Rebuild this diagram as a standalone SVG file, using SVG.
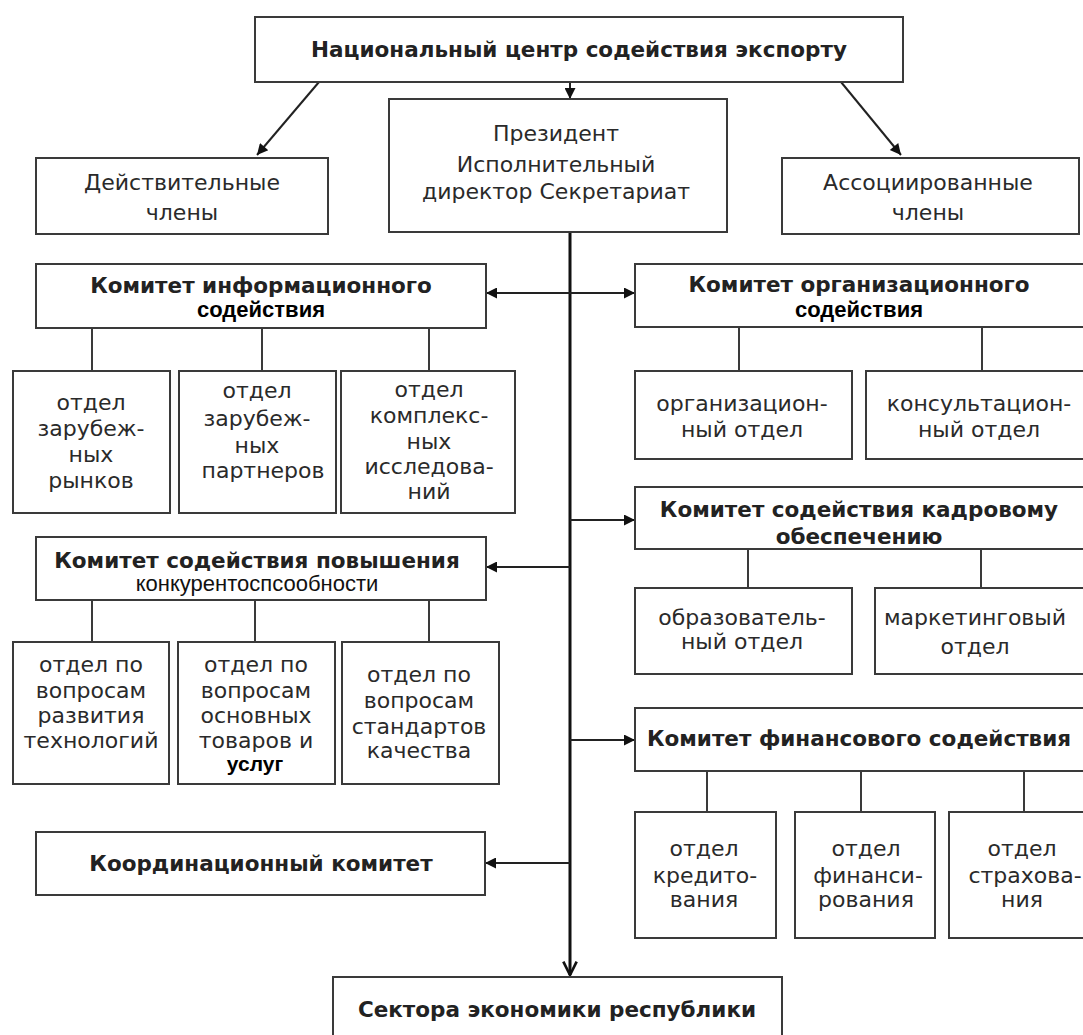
<svg xmlns="http://www.w3.org/2000/svg" width="1083" height="1035" viewBox="0 0 1083 1035">
<defs>
<marker id="ah" viewBox="0 0 10 10" refX="10" refY="5" markerWidth="13" markerHeight="11" markerUnits="userSpaceOnUse" orient="auto-start-reverse"><path d="M0,0 L10,5 L0,10 z" fill="#111"/></marker>
<marker id="av" viewBox="0 0 12 12" refX="11" refY="6" markerWidth="16" markerHeight="16" markerUnits="userSpaceOnUse" orient="auto"><path d="M1,1 L11,6 L1,11" fill="none" stroke="#111" stroke-width="2"/></marker>
</defs>
<style>
.box{fill:#fff;stroke:#3a3a3a;stroke-width:2}
.t{font-family:"DejaVu Sans",Verdana,sans-serif;font-size:22px;fill:#2a2a2a;text-anchor:middle}
.b{font-family:"DejaVu Sans",Verdana,sans-serif;font-size:21.5px;font-weight:bold;fill:#222;text-anchor:middle}
.a{font-family:"Liberation Sans",Arial,sans-serif;font-size:22px;fill:#111;text-anchor:middle}
.ab{font-family:"Liberation Sans",Arial,sans-serif;font-size:22px;font-weight:bold;fill:#000;text-anchor:middle}
.c{fill:none;stroke:#222;stroke-width:2}
.s{fill:none;stroke:#3a3a3a;stroke-width:2}
.m{fill:none;stroke:#111;stroke-width:3}
</style>
<rect width="1083" height="1035" fill="#fff"/>
<g id="connectors">
<line class="c" x1="570" y1="82" x2="570" y2="99" marker-end="url(#ah)"/>
<line class="c" x1="319" y1="82" x2="257" y2="155" marker-end="url(#ah)"/>
<line class="c" x1="841" y1="82" x2="901" y2="155" marker-end="url(#ah)"/>
<line class="m" x1="570" y1="232" x2="570" y2="975" marker-end="url(#av)"/>
<line class="c" x1="486" y1="293" x2="635" y2="293" marker-start="url(#ah)" marker-end="url(#ah)"/>
<line class="c" x1="570" y1="520" x2="635" y2="520" marker-end="url(#ah)"/>
<line class="c" x1="570" y1="567" x2="486" y2="567" marker-end="url(#ah)"/>
<line class="c" x1="570" y1="740" x2="635" y2="740" marker-end="url(#ah)"/>
<line class="c" x1="570" y1="863" x2="485" y2="863" marker-end="url(#ah)"/>
<line class="s" x1="92" y1="328" x2="92" y2="371"/>
<line class="s" x1="262" y1="328" x2="262" y2="371"/>
<line class="s" x1="429" y1="328" x2="429" y2="371"/>
<line class="s" x1="739" y1="327" x2="739" y2="371"/>
<line class="s" x1="982" y1="327" x2="982" y2="371"/>
<line class="s" x1="748" y1="549" x2="748" y2="588"/>
<line class="s" x1="981" y1="549" x2="981" y2="588"/>
<line class="s" x1="92" y1="600" x2="92" y2="642"/>
<line class="s" x1="255" y1="600" x2="255" y2="642"/>
<line class="s" x1="429" y1="600" x2="429" y2="642"/>
<line class="s" x1="707" y1="771" x2="707" y2="812"/>
<line class="s" x1="861" y1="771" x2="861" y2="812"/>
<line class="s" x1="1024" y1="771" x2="1024" y2="812"/>
</g>
<g id="n-center"><rect class="box" x="255" y="17" width="648" height="65"/><text class="b" x="579" y="57">Национальный центр содействия экспорту</text></g>
<g id="n-president"><rect class="box" x="389" y="99" width="338" height="133"/><text class="t" x="556" y="141">Президент</text><text class="t" x="556" y="172">Исполнительный</text><text class="t" x="556" y="199">директор Секретариат</text></g>
<g id="n-full"><rect class="box" x="36" y="158" width="292" height="76"/><text class="t" x="182" y="190">Действительные</text><text class="t" x="182" y="220">члены</text></g>
<g id="n-assoc"><rect class="box" x="782" y="158" width="297" height="76"/><text class="t" x="928" y="190">Ассоциированные</text><text class="t" x="928" y="220">члены</text></g>
<g id="n-info"><rect class="box" x="36" y="264" width="450" height="64"/><text class="b" x="261" y="293">Комитет информационного</text><text class="ab" x="261" y="317">содействия</text></g>
<g id="n-info1"><rect class="box" x="13" y="371" width="157" height="142"/><text class="t" x="91" y="410">отдел</text><text class="t" x="91" y="436">зарубеж-</text><text class="t" x="91" y="462">ных</text><text class="t" x="91" y="488">рынков</text></g>
<g id="n-info2"><rect class="box" x="179" y="371" width="157" height="142"/><text class="t" x="257" y="398">отдел</text><text class="t" x="257" y="426">зарубеж-</text><text class="t" x="257" y="453">ных</text><text class="t" x="263" y="478">партнеров</text></g>
<g id="n-info3"><rect class="box" x="341" y="371" width="174" height="142"/><text class="t" x="429" y="397">отдел</text><text class="t" x="429" y="423">комплекс-</text><text class="t" x="429" y="449">ных</text><text class="t" x="429" y="474">исследова-</text><text class="t" x="429" y="499">ний</text></g>
<g id="n-org"><rect class="box" x="635" y="264" width="460" height="63"/><text class="b" x="859" y="292">Комитет организационного</text><text class="ab" x="859" y="317">содействия</text></g>
<g id="n-org1"><rect class="box" x="635" y="371" width="217" height="88"/><text class="t" x="742" y="411">организацион-</text><text class="t" x="742" y="437">ный отдел</text></g>
<g id="n-org2"><rect class="box" x="866" y="371" width="230" height="88"/><text class="t" x="979" y="411">консультацион-</text><text class="t" x="979" y="437">ный отдел</text></g>
<g id="n-kadr"><rect class="box" x="635" y="487" width="460" height="62"/><text class="b" x="859" y="517">Комитет содействия кадровому</text><text class="b" x="859" y="544">обеспечению</text></g>
<g id="n-kadr1"><rect class="box" x="635" y="588" width="217" height="86"/><text class="t" x="742" y="625">образователь-</text><text class="t" x="742" y="649">ный отдел</text></g>
<g id="n-kadr2"><rect class="box" x="875" y="588" width="220" height="86"/><text class="t" x="975" y="625">маркетинговый</text><text class="t" x="975" y="654">отдел</text></g>
<g id="n-comp"><rect class="box" x="36" y="537" width="450" height="63"/><text class="b" x="257" y="568">Комитет содействия повышения</text><text class="a" x="257" y="591">конкурентоспсообности</text></g>
<g id="n-comp1"><rect class="box" x="13" y="642" width="156" height="142"/><text class="t" x="91" y="672">отдел по</text><text class="t" x="91" y="698">вопросам</text><text class="t" x="91" y="723">развития</text><text class="t" x="91" y="748">технологий</text></g>
<g id="n-comp2"><rect class="box" x="178" y="642" width="157" height="142"/><text class="t" x="256" y="672">отдел по</text><text class="t" x="256" y="698">вопросам</text><text class="t" x="256" y="723">основных</text><text class="t" x="256" y="748">товаров и</text><text class="ab" x="255" y="771" style="font-size:21px">услуг</text></g>
<g id="n-comp3"><rect class="box" x="342" y="642" width="157" height="142"/><text class="t" x="419" y="682">отдел по</text><text class="t" x="419" y="708">вопросам</text><text class="t" x="419" y="734">стандартов</text><text class="t" x="419" y="758">качества</text></g>
<g id="n-fin"><rect class="box" x="635" y="708" width="460" height="63"/><text class="b" x="859" y="746">Комитет финансового содействия</text></g>
<g id="n-fin1"><rect class="box" x="635" y="812" width="141" height="126"/><text class="t" x="704" y="856">отдел</text><text class="t" x="705" y="883">кредито-</text><text class="t" x="704" y="907">вания</text></g>
<g id="n-fin2"><rect class="box" x="795" y="812" width="140" height="126"/><text class="t" x="866" y="856">отдел</text><text class="t" x="868" y="883">финанси-</text><text class="t" x="866" y="907">рования</text></g>
<g id="n-fin3"><rect class="box" x="949" y="812" width="146" height="126"/><text class="t" x="1022" y="856">отдел</text><text class="t" x="1025" y="883">страхова-</text><text class="t" x="1022" y="907">ния</text></g>
<g id="n-coord"><rect class="box" x="36" y="832" width="449" height="63"/><text class="b" x="261" y="871">Координационный комитет</text></g>
<g id="n-sector"><rect class="box" x="333" y="977" width="449" height="70"/><text class="b" x="557" y="1017">Сектора экономики республики</text></g>
</svg>
